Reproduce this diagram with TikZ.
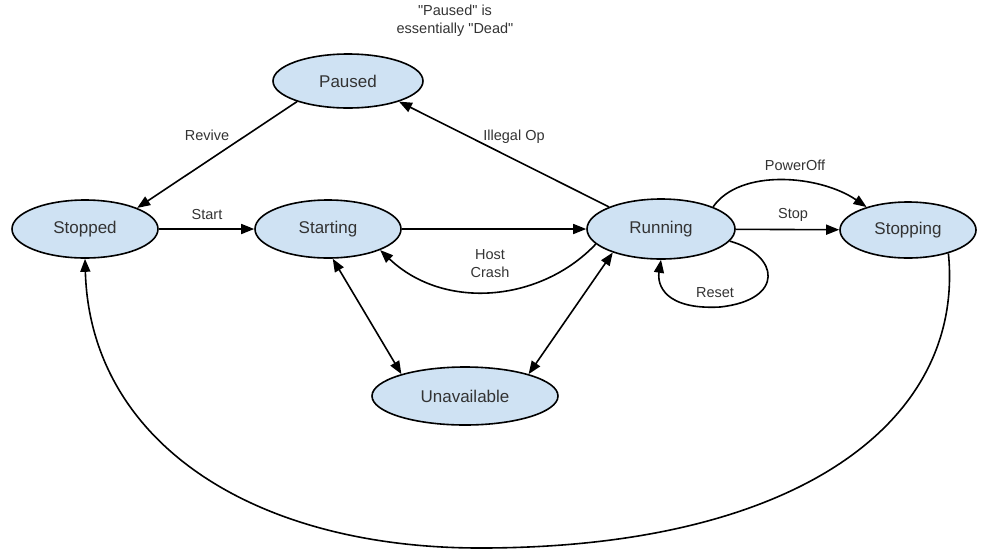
\documentclass[tikz,border=0pt]{standalone}
\usepackage{fontspec}
\setmainfont{Liberation Sans}
\usetikzlibrary{shapes.geometric,arrows.meta}

\begin{document}
\begin{tikzpicture}[x=1pt,y=1pt]
    % Define colors
    \definecolor{statefill}{RGB}{207,226,243}
    \definecolor{textgrey}{RGB}{51,51,51}

    % Define styles
    \tikzstyle{state} = [ellipse, draw, line width=1.6pt, fill=statefill, inner sep=0pt, minimum width=146pt, minimum height=58pt, text=textgrey, font=\fontsize{17}{20}\selectfont]
    \tikzstyle{edge} = [line width=1.6pt, -{Triangle[length=13pt,width=10pt]}]
    \tikzstyle{both} = [line width=1.6pt, {Triangle[length=13pt,width=10pt]}-{Triangle[length=13pt,width=10pt]}]
    \tikzstyle{lbl} = [text=textgrey, font=\fontsize{14.5}{18}\selectfont, align=center, inner sep=0pt]

    \useasboundingbox (0,0) rectangle (981,-550);

    % Note
    \node[lbl] (note) at (455,-21) {\textquotedbl Paused\textquotedbl{} is\\essentially \textquotedbl Dead\textquotedbl};

    % States
    \node[state, minimum width=150pt, minimum height=54pt] (paused) at (348,-81) {Paused};
    \node[state] (stopped) at (85,-229) {Stopped};
    \node[state] (starting) at (328,-229) {Starting};
    \node[state, minimum width=148pt, minimum height=60pt] (running) at (661,-229) {Running};
    \node[state, minimum width=136pt, minimum height=56pt] (stopping) at (908,-230) {Stopping};
    \node[state, minimum width=186pt] (unavail) at (465,-396) {Unavailable};

    % Transitions
    \draw[edge] (paused.202) -- (stopped.22);
    \node[lbl] (revive) at (207,-135) {Revive};
    \draw[edge] (running.157) -- (paused.338);
    \node[lbl] (illegal) at (514,-137) {Illegal Op};
    \draw[edge] (stopped) -- (starting);
    \node[lbl] (start) at (207,-214) {Start};
    \draw[edge] (starting) -- (running);
    \draw[edge] (running.193) .. controls (541,-302) and (444,-311) .. (starting.338);
    \node[lbl] (crash) at (490,-264) {Host\\Crash};
    \draw[both] (starting.279) -- (unavail.161);
    \draw[both] (running.206) -- (unavail.19);
    \draw[edge] (running) -- (stopping);
    \node[lbl] (stop) at (793,-215) {Stop};
    \draw[edge] (running.23) .. controls (740,-168) and (820,-175) .. (stopping.151);
    \node[lbl] (poweroff) at (795,-165) {PowerOff};
    \draw[edge] (running.350) .. controls (780,-255) and (785,-300) .. (720,-307)
        .. controls (665,-310) and (657,-285) .. (running.south);
    \node[lbl] (reset) at (715,-293) {Reset};
    \draw[edge] (stopping.330) .. controls (965,-420) and (800,-548) .. (480,-548)
        .. controls (250,-548) and (90,-440) .. (stopped.south);
\end{tikzpicture}
\end{document}
